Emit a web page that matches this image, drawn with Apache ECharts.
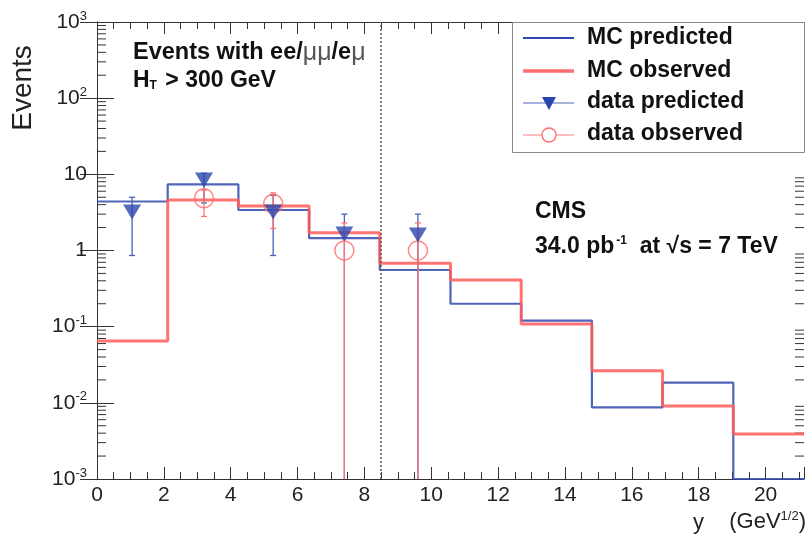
<!DOCTYPE html>
<html><head><meta charset="utf-8">
<script src="https://cdn.jsdelivr.net/npm/echarts@6/dist/echarts.min.js"></script>
<style>html,body{margin:0;padding:0;background:#fff}#c{width:807px;height:538px}</style>
</head><body><div id="c"></div>
<script>
// ---- data ----
const binEdges = [0, 2.115, 4.23, 6.345, 8.46, 10.575, 12.69, 14.805, 16.92, 19.035, 21.15];
const mcPredicted = [4.4, 7.4, 3.4, 1.45, 0.555, 0.2, 0.12, 0.0087, 0.0184, 0.001];
const mcObserved  = [0.065, 4.6, 3.84, 1.71, 0.68, 0.41, 0.108, 0.0264, 0.0091, 0.0039];
const dataPredX    = [1.05, 3.2, 5.27, 7.4, 9.6];
const dataPredY    = [3.2, 8.4, 3.2, 1.65, 1.6];
const dataPredLow  = [0.86, 4.2, 0.86, 0.001, 0.001];
const dataPredHigh = [5.0, 10.3, 5.3, 3.0, 3.0];
const dataObsX    = [3.2, 5.27, 7.4, 9.6];
const dataObsY    = [4.85, 4.1, 1.0, 1.0];
const dataObsLow  = [2.8, 1.95, 0.001, 0.001];
const dataObsHigh = [6.2, 5.7, 2.3, 2.3];
const dividerX = 8.5;
const xTickLabels = ['0','2','4','6','8','10','12','14','16','18','20'];
const yTickExponents = [-3, -2, -1, 0, 1, 2, 3];
const yTickText = [['10','-3'],['10','-2'],['10','-1'],['1',''],['10',''],['10','2'],['10','3']];
const logMinorMultipliers = [2,3,4,5,6,7,8,9];

const FONT = 'Liberation Sans, Arial, Helvetica, sans-serif';
const BLUE = '#3149ad';
const RED = '#ff5a5a';
const XMIN = 0, XMAX = 21.15, YMIN = 0.001, YMAX = 1000;

function stepData(vals){
  return binEdges.map((x,i)=>[x, vals[Math.min(i, vals.length-1)]]);
}
const minorTickData = [];
yTickExponents.slice(0,-1).forEach(e=>{
  logMinorMultipliers.forEach(m=>minorTickData.push([0, m*Math.pow(10,e)]));
});

function errorBarSeries(xs, lows, highs, color, z){
  return {
    type:'custom', z:z, silent:true,
    data: xs.map((x,i)=>[x, lows[i], highs[i]]),
    encode:{x:0, y:[1,2]},
    renderItem:(params, api)=>{
      const x = api.value(0);
      const pl = api.coord([x, api.value(1)]);
      const ph = api.coord([x, api.value(2)]);
      const st = {stroke:color, lineWidth:1.3};
      const ch = [{type:'line', shape:{x1:pl[0],y1:pl[1],x2:ph[0],y2:ph[1]}, style:st},
                  {type:'line', shape:{x1:ph[0]-3,y1:ph[1],x2:ph[0]+3,y2:ph[1]}, style:st}];
      if (api.value(1) > YMIN*1.01) ch.push({type:'line', shape:{x1:pl[0]-3,y1:pl[1],x2:pl[0]+3,y2:pl[1]}, style:st});
      return {type:'group', children:ch};
    }
  };
}

const chart = echarts.init(document.getElementById('c'), null, {renderer:'canvas'});
const axisLine = {show:true, lineStyle:{color:'#333', width:1}};
const option = {
  animation:false,
  backgroundColor:'#fff',
  grid:{left:97, right:3, top:22, bottom:59, containLabel:false},
  xAxis:[{
    type:'value', min:XMIN, max:XMAX, interval:2, position:'bottom',
    axisLine: axisLine,
    axisTick:{show:true, inside:true, length:12, lineStyle:{color:'#333'}},
    minorTick:{show:true, splitNumber:4, length:7, lineStyle:{color:'#333'}},
    splitLine:{show:false},
    axisLabel:{show:true, margin:6, fontFamily:FONT, fontSize:21, color:'#222',
      formatter:(v)=>{ const i = Math.round(v/2); return (Math.abs(v-2*i)<1e-6 && xTickLabels[i]!==undefined) ? xTickLabels[i] : ''; }}
  },{
    type:'value', min:XMIN, max:XMAX, interval:2, position:'top',
    axisLine: axisLine,
    axisTick:{show:true, inside:true, length:12, lineStyle:{color:'#333'}},
    minorTick:{show:true, splitNumber:4, length:7, lineStyle:{color:'#333'}},
    splitLine:{show:false}, axisLabel:{show:false}
  }],
  yAxis:[{
    type:'log', logBase:10, min:YMIN, max:YMAX, splitNumber:6, position:'left',
    axisLine: axisLine,
    axisTick:{show:true, inside:true, length:17, lineStyle:{color:'#333'}},
    splitLine:{show:false},
    axisLabel:{show:true, margin:10, fontFamily:FONT, color:'#222',
      formatter:(v)=>{
        const e = Math.round(Math.log10(v));
        const k = yTickExponents.indexOf(e);
        if (k<0) return '';
        const t = yTickText[k];
        return t[1] ? '{b|'+t[0]+'}{s|'+t[1]+'}' : '{b|'+t[0]+'}';
      },
      rich:{ b:{fontFamily:FONT, fontSize:21, color:'#222'},
             s:{fontFamily:FONT, fontSize:13, color:'#222', padding:[0,0,12,0]} }
    }
  },{
    type:'log', logBase:10, min:YMIN, max:YMAX, splitNumber:6, position:'right',
    axisLine: axisLine,
    axisTick:{show:true, inside:true, length:17, lineStyle:{color:'#333'}},
    splitLine:{show:false}, axisLabel:{show:false}
  }],
  series:[
    { // log minor ticks on left/right frame
      type:'custom', silent:true, z:1,
      data:minorTickData, encode:{x:0, y:1},
      renderItem:(params, api)=>{
        const y = api.coord([0, api.value(1)])[1];
        const cs = params.coordSys;
        const x0 = cs.x, x1 = cs.x + cs.width;
        const st = {stroke:'#333', lineWidth:1};
        return {type:'group', children:[
          {type:'line', shape:{x1:x0, y1:y, x2:x0+9, y2:y}, style:st},
          {type:'line', shape:{x1:x1, y1:y, x2:x1-9, y2:y}, style:st}
        ]};
      }
    },
    {
      name:'MC predicted', type:'line', step:'end', data:stepData(mcPredicted),
      showSymbol:false, z:3, lineStyle:{color:BLUE, width:2.2, opacity:0.85},
      markLine:{silent:true, symbol:'none', label:{show:false},
        lineStyle:{type:[2,2], color:'#555', width:1.5}, data:[{xAxis:dividerX}]}
    },
    {
      name:'MC observed', type:'line', step:'end', data:stepData(mcObserved),
      showSymbol:false, z:4, lineStyle:{color:RED, width:3, opacity:0.85}
    },
    errorBarSeries(dataPredX, dataPredLow, dataPredHigh, '#4a5fb8', 5),
    errorBarSeries(dataObsX, dataObsLow, dataObsHigh, '#ff7474', 6),
    {
      name:'data observed', type:'scatter', z:7,
      data:dataObsX.map((x,i)=>[x, dataObsY[i]]),
      symbol:'circle', symbolSize:19,
      itemStyle:{color:'rgba(255,255,255,0)', borderColor:'#ff6a6a', borderWidth:1.5}
    },
    {
      name:'data predicted', type:'scatter', z:8,
      data:dataPredX.map((x,i)=>[x, dataPredY[i]]),
      symbol:'triangle', symbolRotate:180, symbolSize:[18,15],
      itemStyle:{color:'#2a46ad'}
    }
  ],
  graphic:[
    // legend box
    {type:'rect', z:100, shape:{x:512.5, y:22.5, width:292, height:130}, style:{fill:'#fff', stroke:'#888', lineWidth:1}},
    {type:'line', z:101, shape:{x1:523, y1:38, x2:574, y2:38}, style:{stroke:BLUE, lineWidth:2}},
    {type:'line', z:101, shape:{x1:523, y1:71, x2:574, y2:71}, style:{stroke:'#ff6f6f', lineWidth:3.5}},
    {type:'line', z:101, shape:{x1:523, y1:103, x2:574, y2:103}, style:{stroke:'#5566bb', lineWidth:1.2}},
    {type:'polygon', z:102, shape:{points:[[542,97],[556,97],[549,110]]}, style:{fill:'#2a46ad'}},
    {type:'line', z:101, shape:{x1:523, y1:135, x2:574, y2:135}, style:{stroke:'#ff8080', lineWidth:1.2}},
    {type:'circle', z:102, shape:{cx:549, cy:135, r:7}, style:{fill:'#fff', stroke:'#ff6a6a', lineWidth:1.3}},
    {type:'text', z:103, x:587, y:38, style:{text:'MC predicted', fontFamily:FONT, fontWeight:'bold', fontSize:23, fill:'#111', verticalAlign:'middle'}},
    {type:'text', z:103, x:587, y:71, style:{text:'MC observed', fontFamily:FONT, fontWeight:'bold', fontSize:23, fill:'#111', verticalAlign:'middle'}},
    {type:'text', z:103, x:587, y:102, style:{text:'data predicted', fontFamily:FONT, fontWeight:'bold', fontSize:23, fill:'#111', verticalAlign:'middle'}},
    {type:'text', z:103, x:587, y:134, style:{text:'data observed', fontFamily:FONT, fontWeight:'bold', fontSize:23, fill:'#111', verticalAlign:'middle'}},
    // annotations
    {type:'text', z:103, x:133, y:53, style:{text:'{b|Events with ee/}{m|μμ}{b|/e}{m|μ}', fontFamily:FONT, verticalAlign:'middle',
      rich:{b:{fontFamily:FONT, fontWeight:'bold', fontSize:23.5, fill:'#111'}, m:{fontFamily:FONT, fontSize:25, fill:'#555'}}}},
    {type:'text', z:103, x:133, y:81, style:{text:'{b|H}{sub|T}{b| > 300 GeV}', verticalAlign:'middle',
      rich:{b:{fontFamily:FONT, fontWeight:'bold', fontSize:23, fill:'#111'}, sub:{fontFamily:FONT, fontWeight:'bold', fontSize:12, fill:'#111', padding:[10,2,0,0]}}}},
    {type:'text', z:103, x:535, y:212, style:{text:'CMS', fontFamily:FONT, fontWeight:'bold', fontSize:23, fill:'#111', verticalAlign:'middle'}},
    {type:'text', z:103, x:535, y:247, style:{text:'{b|34.0 pb}{sup|-1}{b|  at √s = 7 TeV}', verticalAlign:'middle',
      rich:{b:{fontFamily:FONT, fontWeight:'bold', fontSize:23, fill:'#111'}, sup:{fontFamily:FONT, fontWeight:'bold', fontSize:12, fill:'#111', padding:[0,0,12,2]}}}},
    // axis titles
    {type:'text', z:103, x:23, y:88, rotation:Math.PI/2, style:{text:'Events', fontFamily:FONT, fontSize:28, fill:'#222', align:'center', verticalAlign:'middle'}},
    {type:'text', z:103, x:693, y:523, style:{text:'y', fontFamily:FONT, fontSize:22, fill:'#222', verticalAlign:'middle'}},
    {type:'text', z:103, x:806, y:522, style:{text:'{b|(GeV}{s|1/2}{b|)}', align:'right', verticalAlign:'middle',
      rich:{b:{fontFamily:FONT, fontSize:22, fill:'#222'}, s:{fontFamily:FONT, fontSize:13, fill:'#222', padding:[0,0,12,0]}}}}
  ]
};
chart.setOption(option);
</script></body></html>
